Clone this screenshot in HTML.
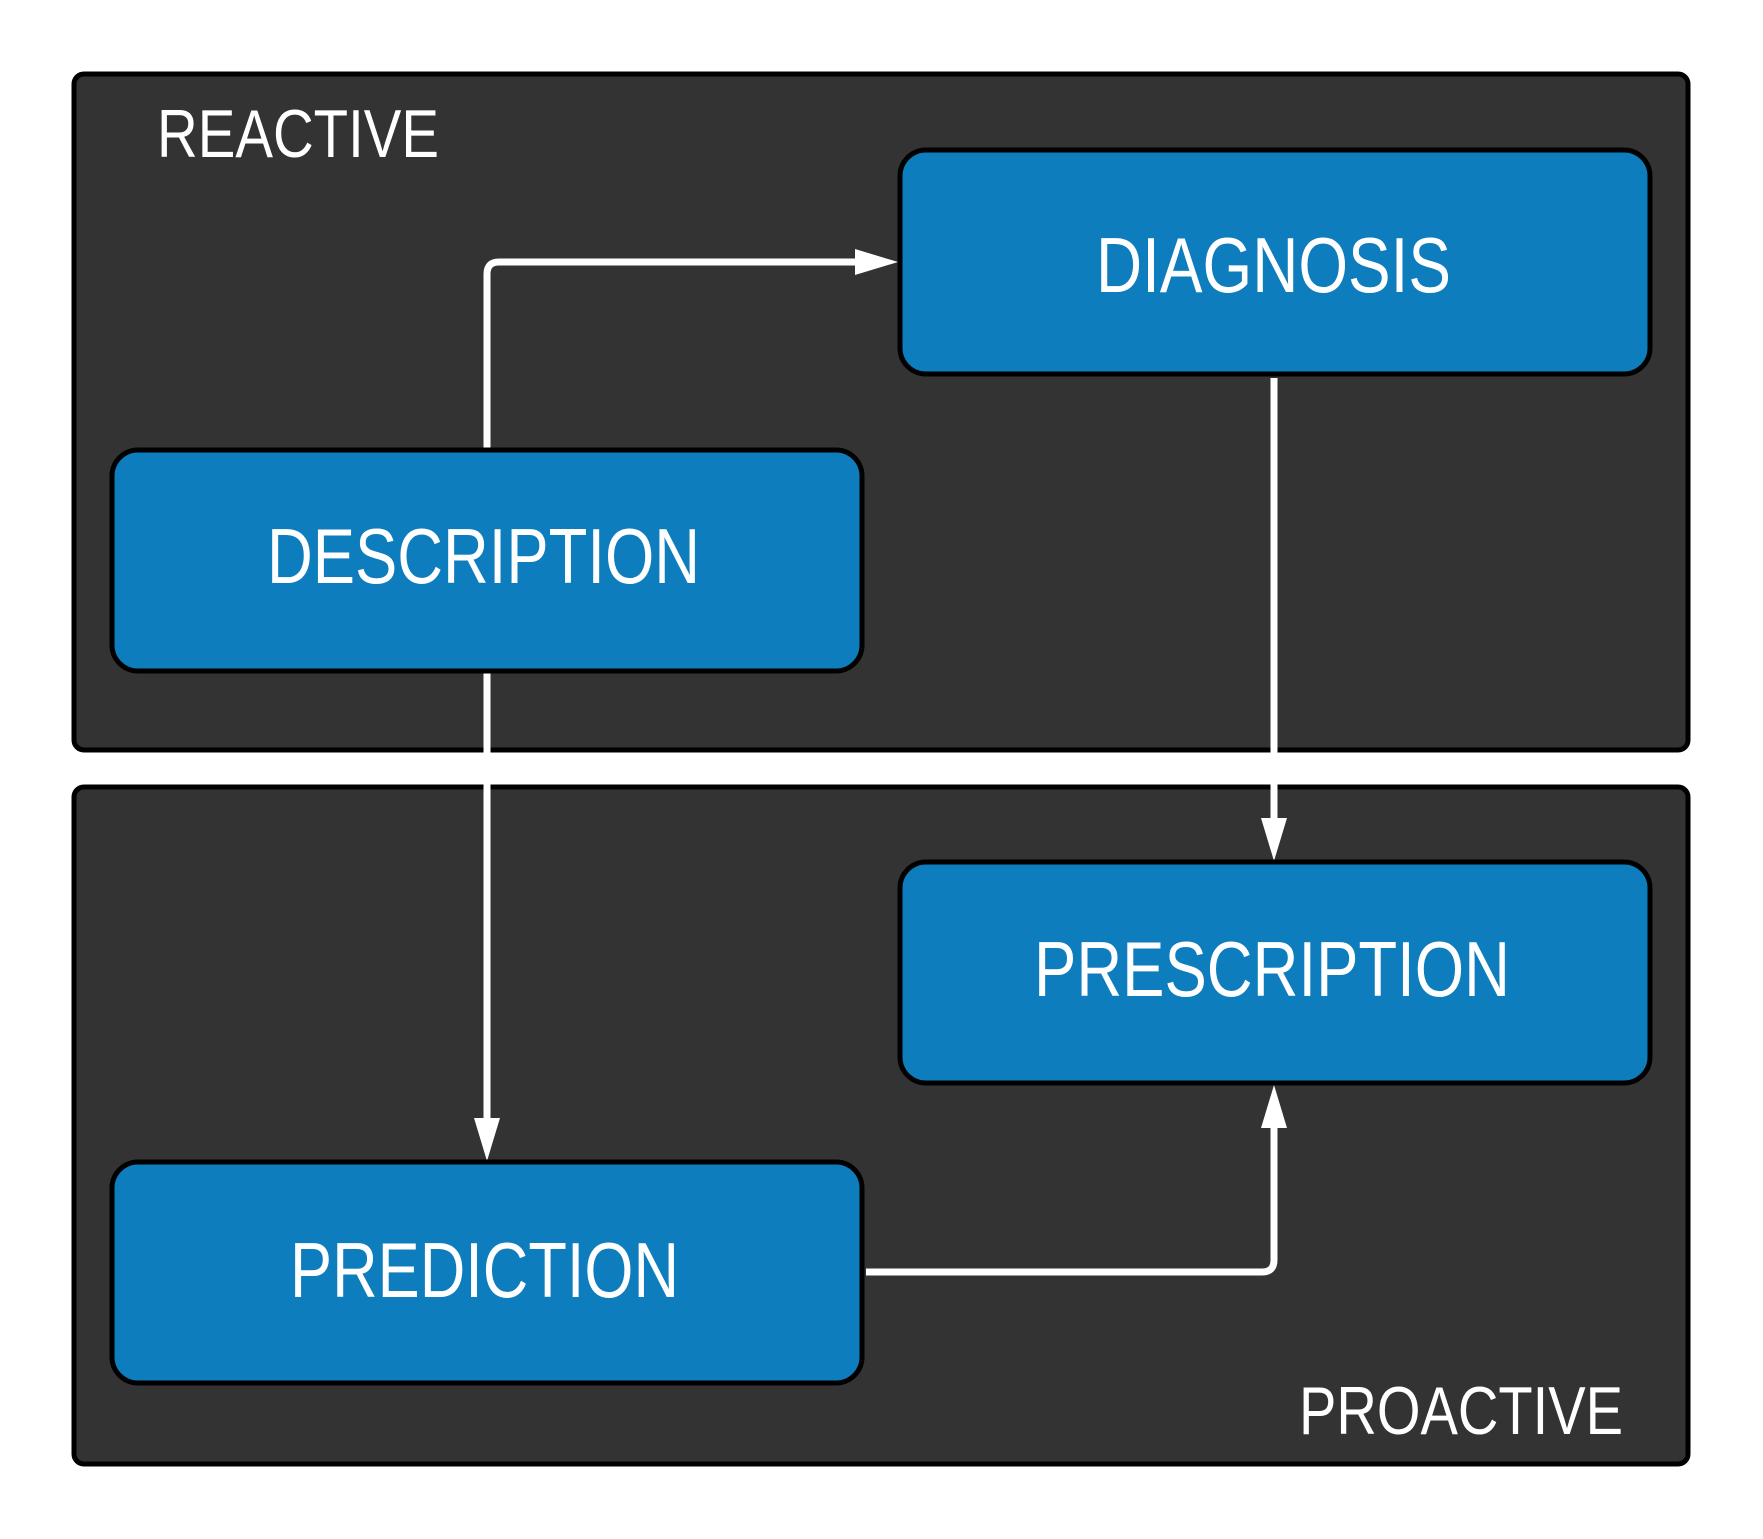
<!DOCTYPE html>
<html><head><meta charset="utf-8"><style>html,body{margin:0;padding:0;background:#fff}svg{display:block}</style></head>
<body>
<svg width="1763" height="1539" viewBox="0 0 1763 1539" xmlns="http://www.w3.org/2000/svg">
<rect x="74" y="74" width="1614" height="676" rx="10" fill="#333" stroke="#000" stroke-width="5"/>
<rect x="74" y="787" width="1614" height="677" rx="10" fill="#333" stroke="#000" stroke-width="5"/>
<g font-family="Liberation Sans, sans-serif" fill="#fff">
<text x="157" y="157" font-size="68" textLength="282" lengthAdjust="spacingAndGlyphs">REACTIVE</text>
<text x="1299" y="1434" font-size="68" textLength="324" lengthAdjust="spacingAndGlyphs">PROACTIVE</text>
</g>
<g fill="none" stroke="#fff" stroke-width="7">
<path d="M487 450 V274 Q487 262 499 262 H858"/>
<path d="M1274 378 V822"/>
<path d="M487 671 V1122"/>
<path d="M866 1272 H1262 Q1274 1272 1274 1260 V1126"/>
</g>
<g fill="#fff">
<polygon points="855,249 898,262 855,275"/>
<polygon points="1261,818 1274,861 1287,818"/>
<polygon points="474,1118 487,1161 500,1118"/>
<polygon points="1261,1128 1274,1085 1287,1128"/>
</g>
<g fill="#0d7dbd" stroke="#000" stroke-width="5">
<rect x="900" y="150" width="750" height="224" rx="26"/>
<rect x="112" y="450" width="750" height="221" rx="26"/>
<rect x="900" y="862" width="750" height="221" rx="26"/>
<rect x="112" y="1162" width="750" height="221" rx="26"/>
</g>
<g font-family="Liberation Sans, sans-serif" fill="#fff" font-size="78">
<text x="1096" y="292" textLength="355" lengthAdjust="spacingAndGlyphs">DIAGNOSIS</text>
<text x="267" y="583" textLength="433" lengthAdjust="spacingAndGlyphs">DESCRIPTION</text>
<text x="1034" y="996" textLength="476" lengthAdjust="spacingAndGlyphs">PRESCRIPTION</text>
<text x="290" y="1297" textLength="389" lengthAdjust="spacingAndGlyphs">PREDICTION</text>
</g>
</svg>
</body></html>
